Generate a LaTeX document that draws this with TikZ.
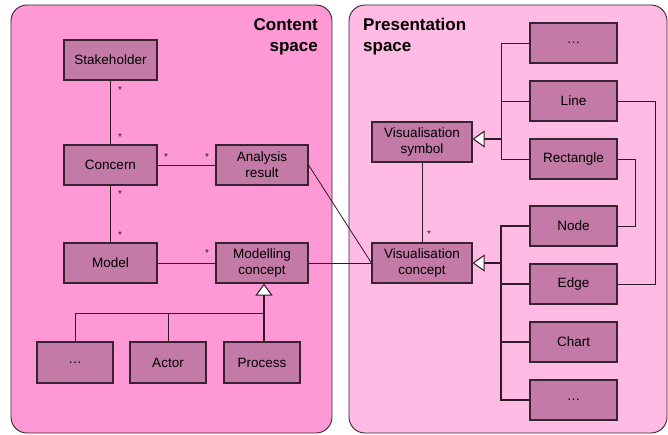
\documentclass[tikz,border=0pt]{standalone}
\usepackage{fontspec}
\setmainfont{Liberation Sans}
\usetikzlibrary{arrows.meta}
\definecolor{contentbg}{RGB}{255,153,214}
\definecolor{presbg}{RGB}{255,187,228}
\definecolor{boxfill}{RGB}{196,122,166}
\definecolor{edgecol}{RGB}{55,35,50}
\definecolor{linecol}{RGB}{45,25,40}
\tikzset{
  panel/.style={draw=edgecol, line width=0.9pt, rounded corners=16pt},
  cls/.style={draw=edgecol, fill=boxfill, line width=1.1pt, inner sep=1pt,
    font=\fontsize{13.5}{16}\selectfont, align=center},
  clsA/.style={cls, minimum width=93pt, minimum height=40pt},
  clsB/.style={cls, minimum width=76pt, minimum height=41pt},
  clsC/.style={cls, minimum width=100pt, minimum height=40pt},
  clsD/.style={cls, minimum width=87pt, minimum height=40pt},
  assoc/.style={draw=linecol, line width=0.8pt},
  tree/.style={draw=linecol, line width=0.9pt},
  gen/.style={draw=linecol, line width=1.8pt,
    -{Triangle[open, fill=white, length=12pt, width=17pt, line width=1pt]}},
  mult/.style={font=\fontsize{10}{10}\selectfont, inner sep=0pt, text=linecol},
  title/.style={font=\bfseries\fontsize{17}{21}\selectfont, inner sep=0pt}
}
\begin{document}
\begin{tikzpicture}[x=1pt, y=-1pt]
\useasboundingbox (0,0) rectangle (668,434);

% the two spaces
\draw[panel, fill=contentbg] (11,5) rectangle (332,433);
\draw[panel, fill=presbg] (349,5) rectangle (667,433);
\node[title, anchor=east, align=right] (ctitle) at (318,37) {Content\\space};
\node[title, anchor=west, align=left] (ptitle) at (363,37) {Presentation\\space};

% content space classes
\node[clsA] (stake) at (110.5,60) {Stakeholder};
\node[clsA] (concern) at (110.5,165) {Concern};
\node[clsA] (model) at (110.5,263) {Model};
\node[clsA, minimum width=92pt] (analysis) at (262,165) {Analysis\\result};
\node[clsA, minimum width=92pt] (mconcept) at (262,263) {Modelling\\concept};
\node[clsB] (cdots) at (75,362.5) {\ldots};
\node[clsB] (actor) at (168,362.5) {Actor};
\node[clsB] (process) at (262,362.5) {Process};

% presentation space classes
\node[clsC] (vsym) at (422,142) {Visualisation\\symbol};
\node[clsC] (vcon) at (422,263) {Visualisation\\concept};
\node[clsD] (pdotsA) at (573.5,43) {\ldots};
\node[clsD] (line) at (573.5,101) {Line};
\node[clsD] (rect) at (573.5,159) {Rectangle};
\node[clsD] (nodebox) at (573.5,226) {Node};
\node[clsD] (edge) at (573.5,284) {Edge};
\node[clsD] (chart) at (573.5,342) {Chart};
\node[clsD] (pdotsB) at (573.5,400) {\ldots};

% associations
\draw[assoc] (stake) -- (concern);
\draw[assoc] (concern) -- (model);
\draw[assoc] (concern) -- (analysis);
\draw[assoc] (model) -- (mconcept);
\draw[assoc] (mconcept) -- (vcon);
\draw[assoc] (analysis.east) -- (vcon.west);
\draw[assoc] (vsym) -- (vcon);
\draw[assoc] (line.east) -- ++(38,0) |- (edge.east);
\draw[assoc] (rect.east) -- ++(18,0) |- (nodebox.east);

% multiplicities
\node[mult] (m1) at (120,90) {*};
\node[mult] (m2) at (120,137) {*};
\node[mult] (m3) at (166,157) {*};
\node[mult] (m4) at (207,157) {*};
\node[mult] (m5) at (120,194) {*};
\node[mult] (m6) at (120,235) {*};
\node[mult] (m7) at (207,253) {*};
\node[mult] (m8) at (429,234) {*};

% generalisation of modelling concepts
\coordinate (jM) at (264,313);
\draw[gen, line width=1.1pt] (process.north -| jM) -- (mconcept.south -| jM);
\draw[tree] (cdots.north) |- (jM);
\draw[tree] (actor.north) -- (actor.north |- jM);

% generalisation of visualisation symbols
\coordinate (jS) at (501,139);
\draw[gen] (jS) -- (vsym.east |- jS);
\draw[tree] (pdotsA.west) -| (jS);
\draw[tree] (line.west) -- (line.west -| jS);
\draw[tree] (rect.west) -| (jS);

% generalisation of visualisation concepts
\coordinate (jC) at (501,263);
\draw[gen] (jC) -- (vcon.east);
\draw[tree, line width=1.3pt] (nodebox.west) -| (jC);
\draw[tree, line width=1.3pt] (edge.west) -- (edge.west -| jC);
\draw[tree, line width=1.3pt] (chart.west) -- (chart.west -| jC);
\draw[tree, line width=1.3pt] (pdotsB.west) -| (jC);
\end{tikzpicture}
\end{document}
